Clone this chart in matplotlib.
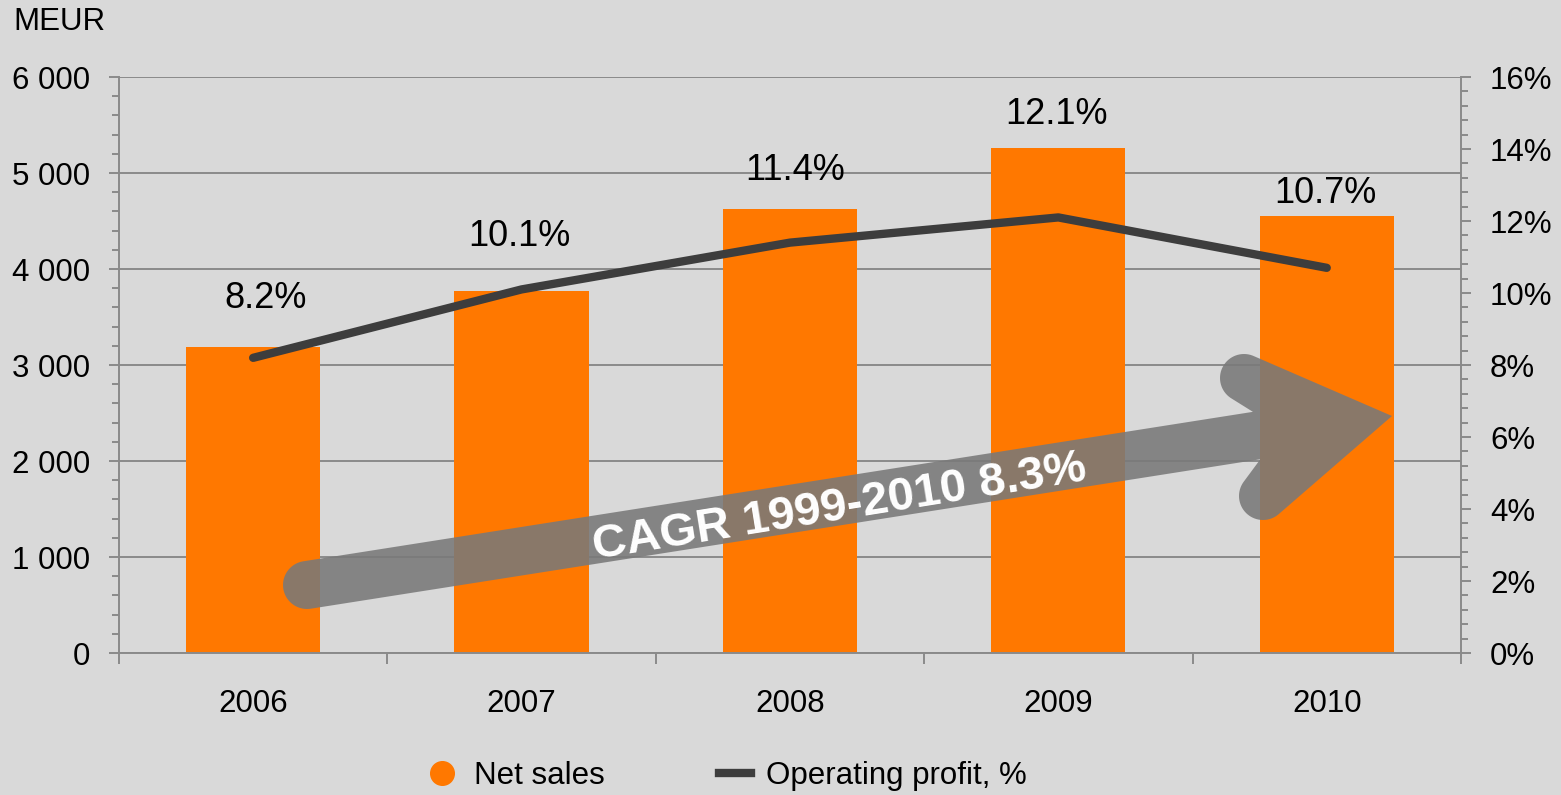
import matplotlib.pyplot as plt
import matplotlib.ticker as mticker
import matplotlib.transforms as mtransforms
from matplotlib.path import Path
from matplotlib.patches import PathPatch
from matplotlib.lines import Line2D
import numpy as np

plt.rcParams['font.family'] = ['Liberation Sans', 'DejaVu Sans']

years = ['2006', '2007', '2008', '2009', '2010']
net_sales = [3190, 3770, 4625, 5260, 4550]          # MEUR
op_profit = [8.2, 10.1, 11.4, 12.1, 10.7]           # %
cagr_text = 'CAGR 1999-2010 8.3%'

bg = '#d9d9d9'
grey = '#8a8a8a'
orange = '#ff7800'
dark = '#3d3d3d'

fig = plt.figure(figsize=(15.61, 7.95), dpi=100, facecolor=bg)
ax = fig.add_axes([0.0762, 0.1786, 0.8597, 0.7245])
ax.set_facecolor(bg)
ax2 = ax.twinx()
ax2.patch.set_visible(False)

x = np.arange(len(years)) + 0.5
ax.bar(x, net_sales, width=0.5, color=orange, zorder=2)
ax.set_xlim(0, len(years))
ax.set_ylim(0, 6000)
ax.yaxis.set_major_locator(mticker.MultipleLocator(1000))
ax.yaxis.set_minor_locator(mticker.MultipleLocator(200))
ax.yaxis.set_major_formatter(mticker.FuncFormatter(lambda v, p: f'{int(v):,}'.replace(',', ' ')))
ax.yaxis.grid(True, color=grey, lw=1.4, zorder=1)
ax.set_axisbelow(True)

# category boundaries get the ticks, centres get the labels
ax.set_xticks(np.arange(len(years) + 1))
ax.set_xticklabels([])
ax.set_xticks(x, minor=True)
ax.set_xticklabels(years, minor=True)
ax.tick_params(axis='x', which='major', length=8, width=1.4, color=grey)
ax.tick_params(axis='x', which='minor', length=0, pad=26, labelsize=22.5)
ax.tick_params(axis='y', which='major', length=7, width=1.4, color=grey, pad=14, labelsize=22.5)
ax.tick_params(axis='y', which='minor', length=5, width=1.4, color=grey)

ax2.plot(x, op_profit, color=dark, lw=6, solid_capstyle='round', solid_joinstyle='round', zorder=3)
ax2.set_ylim(0, 16)
ax2.yaxis.set_major_locator(mticker.MultipleLocator(2))
ax2.yaxis.set_minor_locator(mticker.MultipleLocator(0.4))
ax2.yaxis.set_major_formatter(mticker.FuncFormatter(lambda v, p: f'{int(v)}%'))
ax2.tick_params(axis='y', which='major', length=7, width=1.4, color=grey, pad=14, labelsize=22.5)
ax2.tick_params(axis='y', which='minor', length=5, width=1.4, color=grey)

for a in (ax, ax2):
    for s in a.spines.values():
        s.set_color(grey)
        s.set_linewidth(1.4)
    a.spines['top'].set_visible(False)
ax.spines['right'].set_visible(False)
ax2.spines['left'].set_visible(False)
ax2.spines['bottom'].set_visible(False)

# percentage labels above the bars (hand-placed offsets, in points)
label_dx = [9, -1.5, 3.5, -1.5, -1]
label_dy = [34.5, 39.5, 27.5, 24.5, 16.5]
for xi, h, p, dx, dy in zip(x, net_sales, op_profit, label_dx, label_dy):
    ax.annotate(f'{p:.1f}%', (xi, h), xytext=(dx, dy), textcoords='offset points',
                ha='center', va='center', fontsize=26, zorder=5)

fig.text(13 / 1561, 1 - 22 / 795, 'MEUR', fontsize=22.5, va='center', ha='left')


# CAGR arrow, built in pixel units (origin top-left)
def hull(pts):
    pts = sorted(map(tuple, pts))
    def cross(o, a, b):
        return (a[0] - o[0]) * (b[1] - o[1]) - (a[1] - o[1]) * (b[0] - o[0])
    lower, upper = [], []
    for p in pts:
        while len(lower) >= 2 and cross(lower[-2], lower[-1], p) <= 0:
            lower.pop()
        lower.append(p)
    for p in reversed(pts):
        while len(upper) >= 2 and cross(upper[-2], upper[-1], p) <= 0:
            upper.pop()
        upper.append(p)
    return np.array(lower[:-1] + upper[:-1])


def disc(cx, cy, r, n=72):
    t = np.linspace(0, 2 * np.pi, n, endpoint=False)
    return np.column_stack([cx + r * np.cos(t), cy + r * np.sin(t)])


tip = [[1392, 416]]
neck = [[1282, 430]]
pieces = [
    hull(np.vstack([disc(307, 585, 24), disc(1330, 424, 24)])),   # shaft
    hull(np.vstack([disc(1244, 378, 24), tip, neck])),            # upper barb
    hull(np.vstack([disc(1263, 496, 24), tip, neck])),            # lower barb
]
verts, codes = [], []
for poly in pieces:
    verts += list(poly) + [poly[0]]
    codes += [Path.MOVETO] + [Path.LINETO] * (len(poly) - 1) + [Path.CLOSEPOLY]
px = mtransforms.Affine2D().scale(1 / 100, -1 / 100).translate(0, 7.95) + fig.dpi_scale_trans
fig.add_artist(PathPatch(Path(np.array(verts), codes), facecolor='#797979', edgecolor='none',
                         alpha=0.88, transform=px, zorder=4))
fig.text(840, 508, cagr_text, transform=px, color='white', fontsize=34, fontweight='bold',
         rotation=9.1, rotation_mode='anchor', ha='center', va='center', zorder=5)

handles = [Line2D([], [], ls='none', marker='o', markersize=17, color=orange),
           Line2D([], [], color=dark, lw=6)]
fig.legend(handles, ['Net sales', 'Operating profit, %'], loc='center', bbox_to_anchor=(0.4657, 0.024),
           ncol=2, frameon=False, fontsize=22.5, handlelength=1.0, handletextpad=0.5, columnspacing=3.68)

fig.savefig('out.png', dpi=100, facecolor=bg)
